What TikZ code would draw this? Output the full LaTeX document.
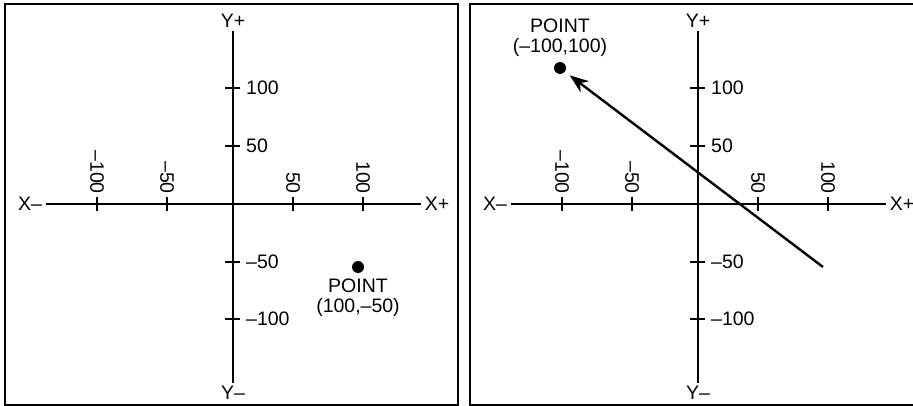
\documentclass[tikz,border=0pt]{standalone}
\usepackage{fontspec}
\setmainfont{Liberation Sans}
\usetikzlibrary{arrows.meta, positioning}

\begin{document}
\begin{tikzpicture}[
        x=1pt, y=-1pt,
        line width=2.4pt,
        font=\fontsize{19.5}{20}\selectfont,
        axlabel/.style={inner sep=2.5pt},
        ticklabel/.style={inner sep=2pt},
        dot/.style={circle, fill, inner sep=0pt, minimum size=12pt},
        ptlabel/.style={align=center, inner sep=1pt}
    ]

    \useasboundingbox (0,0) rectangle (913,406);

    % frames
    \draw (5,4) rectangle (458,405);
    \draw (470,4) rectangle (918,405);

    % the two sets of axes
    \foreach \p/\ox in {l/233, r/698} {
        \node[axlabel] (\p-xm) at (\ox-203,204) {X–};
        \node[axlabel] (\p-xp) at (\ox+204,204) {X+};
        \node[axlabel] (\p-yp) at (\ox,21) {Y+};
        \node[axlabel] (\p-ym) at (\ox,393) {Y–};
        \path[-] (\p-xm) edge (\p-xp);
        \path[-] (\p-yp) edge (\p-ym);
        \foreach \dx/\t in {-136/–100, -66/–50, 60/50, 130/100}
            \draw (\ox+\dx,197) -- (\ox+\dx,211)
                node[ticklabel, rotate=-90, anchor=east, pos=0] {\t};
        \foreach \dy/\t in {-116/100, -58/50, 58/–50, 115/–100}
            \draw (\ox-8,204+\dy) -- (\ox+7,204+\dy)
                node[ticklabel, anchor=west, inner sep=5pt] {\t};
    }

    % left: the point
    \node[dot] (dotl) at (358,267) {};
    \node[ptlabel, below=2pt of dotl] (ptl) {POINT\\(100,–50)};

    % right: the point and the move to it
    \node[dot] (dotr) at (560,68) {};
    \node[ptlabel, above=2pt of dotr] (ptr) {POINT\\(–100,100)};
    \coordinate (tail) at (823,267);
    \draw[-{Stealth[length=19pt, width=14pt]}, shorten >=5pt] (tail) -- (dotr);

\end{tikzpicture}
\end{document}
